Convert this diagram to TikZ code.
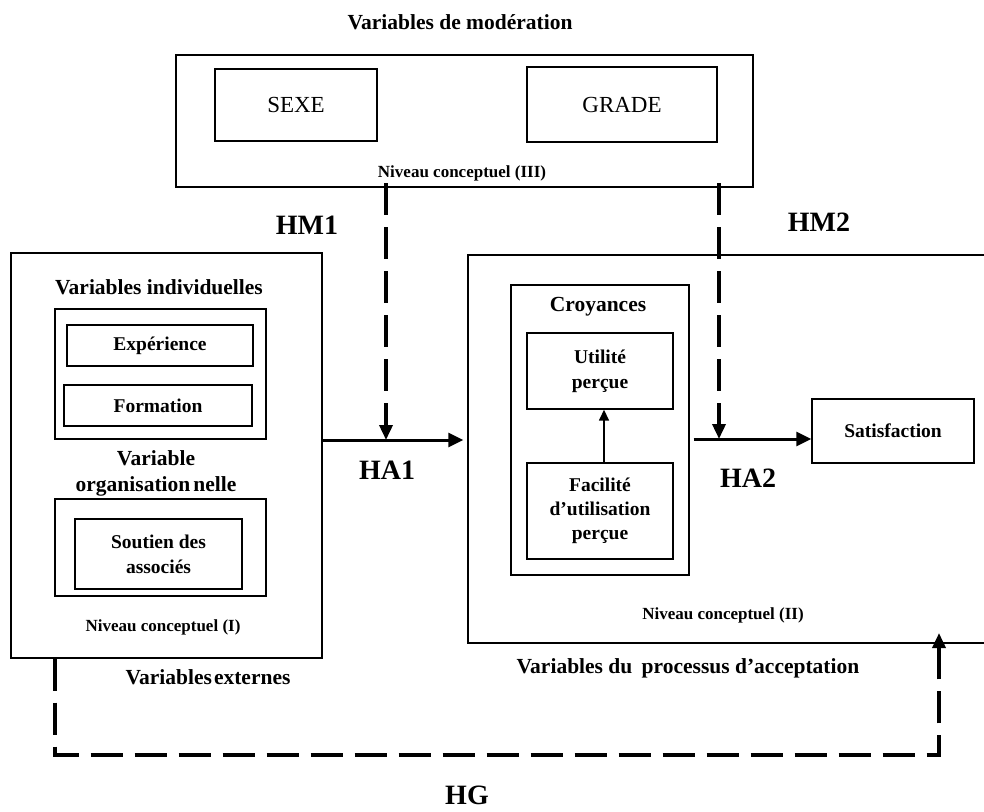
\documentclass[tikz,border=0pt]{standalone}
\usepackage{fontspec}
\setmainfont{Liberation Serif}
\usetikzlibrary{arrows.meta}
\newcommand\myHuge{\fontsize{28}{32}\selectfont\bfseries}
\newcommand\myHead{\fontsize{21.5}{26}\selectfont\bfseries}
\newcommand\myText{\fontsize{19.5}{25}\selectfont\bfseries}
\newcommand\myNiv{\fontsize{17}{20}\selectfont\bfseries}
\newcommand\myReg{\fontsize{23}{26}\selectfont}
\begin{document}
\begin{tikzpicture}[x=1pt,y=-1pt,
  box/.style={draw, line width=1.4pt, inner sep=0pt, align=center, font=\myText},
  lbl/.style={inner sep=0pt, align=center},
  thickarr/.style={line width=3pt, -{Triangle[length=15pt,width=14pt]}},
  thinarr/.style={line width=1.6pt, -{Triangle[length=11pt,width=10pt]}},
  dasharr/.style={line width=3.5pt, dash pattern=on 32pt off 12pt, -{Triangle[length=15pt,width=13pt]}}]
\clip (0,0) rectangle (984,811);
\fill[white] (0,0) rectangle (984,811);

% moderation box
\node[lbl, font=\myHead] (titmod) at (460,22) {Variables de mod\'eration};
\node[box, minimum width=577pt, minimum height=132pt] (modbox) at (464.5,121) {};
\node[box, font=\myReg, minimum width=162pt, minimum height=72pt] (sexe) at (296,105) {SEXE};
\node[box, font=\myReg, minimum width=190pt, minimum height=75pt] (grade) at (622,104.5) {GRADE};
\node[lbl, font=\myNiv] (niv3) at (462,173) {Niveau conceptuel (III)};

% external variables box
\node[box, minimum width=311pt, minimum height=405pt] (extbox) at (166.5,455.5) {};
\node[lbl, font=\myHead] (indivt) at (159,287) {Variables individuelles};
\node[box, minimum width=211pt, minimum height=130pt] (indiv) at (160.5,374) {};
\node[box, minimum width=186pt, minimum height=41pt] (exper) at (160,345.5) {Exp\'erience};
\node[box, minimum width=188pt, minimum height=41pt] (form) at (158,405.5) {Formation};
\node[lbl, font=\myHead] (orgt) at (156,473) {Variable\\organisation\hspace{3pt}nelle};
\node[box, minimum width=211pt, minimum height=97pt] (org) at (160.5,547.5) {};
\node[box, minimum width=167pt, minimum height=70pt] (soutien) at (158.5,554) {Soutien des\\associ\'es};
\node[lbl, font=\myNiv] (niv1) at (163,627) {Niveau conceptuel (I)};
\node[lbl, font=\myHead] (extt) at (208,677) {Variables\hspace{2pt}externes};

% acceptance box
\node[box, minimum width=527pt, minimum height=388pt] (accbox) at (731.5,449) {};
\node[box, minimum width=178pt, minimum height=290pt] (croy) at (600,430) {};
\node[lbl, font=\myHead] (croyt) at (598,307) {Croyances};
\node[box, minimum width=146pt, minimum height=76pt] (util) at (600,371) {Utilit\'e\\per\c{c}ue};
\node[box, minimum width=146pt, minimum height=96pt, font=\fontsize{19.5}{24}\selectfont\bfseries] (facil) at (600,511) {Facilit\'e\\d'utilisation\\per\c{c}ue};
\node[box, minimum width=162pt, minimum height=64pt] (satis) at (893,431) {Satisfaction};
\node[lbl, font=\myNiv] (niv2) at (723,615) {Niveau conceptuel (II)};
\node[lbl, font=\myHead] (acct) at (688,668) {Variables du\hspace{4pt} processus d'acceptation};

% hypothesis labels
\node[lbl, font=\myHuge] (hm1) at (307,225) {HM1};
\node[lbl, font=\myHuge] (hm2) at (819,222) {HM2};
\node[lbl, font=\myHuge] (ha1) at (387,470) {HA1};
\node[lbl, font=\myHuge] (ha2) at (748,478) {HA2};
\node[lbl, font=\myHuge] (hg) at (467,795) {HG};

% connectors
\coordinate (ha1y) at (0,440);
\coordinate (ha2y) at (0,439);
\coordinate (hm1t) at (386,183);
\coordinate (hm2t) at (719,183);
\coordinate (hgL) at (55,755);
\coordinate (hgR) at (939,755);
\coordinate (hgT) at (939,633);

\draw[thickarr] (extbox.east |- ha1y) -- ([xshift=-4pt]accbox.west |- ha1y);
\draw[thickarr] ([xshift=4pt]croy.east |- ha2y) -- (satis.west |- ha2y);
\draw[dasharr] (hm1t) -- (hm1t |- ha1y);
\draw[dasharr] (hm2t) -- (hm2t |- ha2y);
\draw[thinarr] ([xshift=4pt]facil.north) -- ([xshift=4pt]util.south);
\draw[dasharr] (extbox.south -| hgL) -- (hgL) -- (hgR) -- (hgT);
\end{tikzpicture}
\end{document}
